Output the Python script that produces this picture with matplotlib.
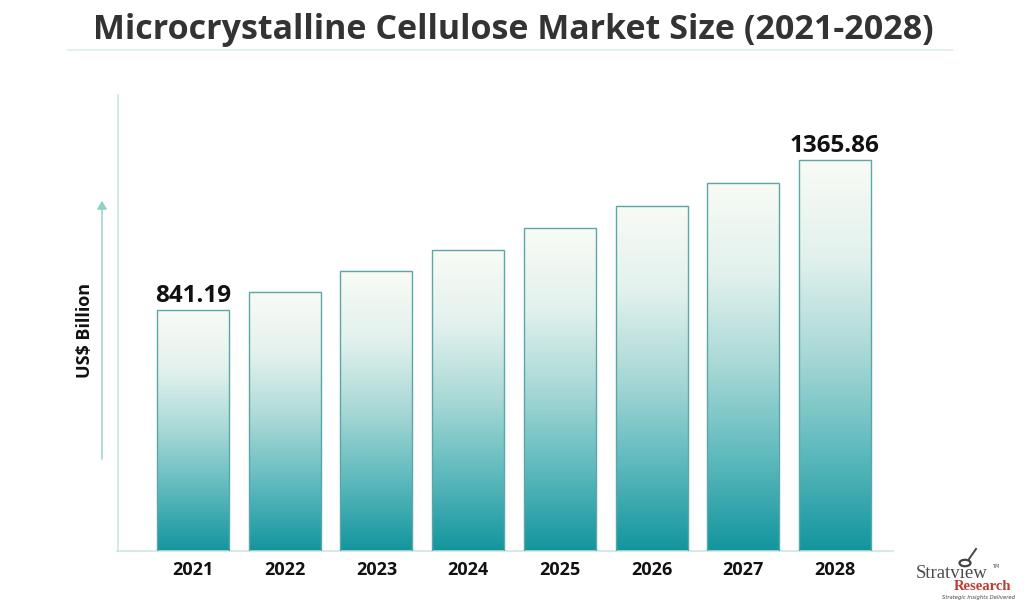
import numpy as np
import matplotlib
matplotlib.use("Agg")
import matplotlib.pyplot as plt
from matplotlib.colors import LinearSegmentedColormap
from matplotlib.patches import FancyArrowPatch

years = ["2021", "2022", "2023", "2024", "2025", "2026", "2027", "2028"]
values = [841.19, 905, 978, 1051, 1127, 1205, 1286, 1365.86]
labelled = {0: "841.19", 7: "1365.86"}
title = "Microcrystalline Cellulose Market Size (2021-2028)"
ylabel = "US$ Billion"

W, H = 1026, 601
fig = plt.figure(figsize=(W / 100, H / 100), dpi=100)
fig.patch.set_facecolor("white")

def fx(px):
    return px / W

def fy(py):
    return 1 - py / H

ax_left, ax_right, ax_top, ax_bot = 117.5, 893, 95, 551
ax = fig.add_axes([fx(ax_left), fy(ax_bot), fx(ax_right - ax_left), (ax_bot - ax_top) / H])
ax.set_facecolor("none")

unit = 91.71
x0 = -(193 - ax_left) / unit
x1 = (ax_right - 193) / unit
ymax = (ax_bot - ax_top) * 3.492

cmap = LinearSegmentedColormap.from_list(
    "tealgrad",
    [(0.0, "#13959e"), (0.25, "#5db9bd"), (0.5, "#a8d8d6"), (0.75, "#e2f1ed"), (1.0, "#f9fbf5")],
)
grad = np.linspace(0, 1, 256).reshape(-1, 1)
bw = 0.785
xs = np.arange(len(years))
bars = ax.bar(xs, values, width=bw, facecolor="none", edgecolor="#5ba7a8", linewidth=1.0, zorder=3)
for b, v in zip(bars, values):
    x = b.get_x()
    ax.imshow(grad, cmap=cmap, origin="lower", aspect="auto",
              extent=(x, x + bw, 0, v), zorder=2, interpolation="bilinear")
ax.set_xlim(x0, x1)
ax.set_ylim(0, ymax)

for i, txt in labelled.items():
    ax.text(xs[i], values[i] + 8, txt, ha="center", va="bottom",
            fontsize=17.5, fontweight="bold", family="Open Sans", color="#111111", zorder=4)

for s in ["top", "right"]:
    ax.spines[s].set_visible(False)
for s in ["left", "bottom"]:
    ax.spines[s].set_color("#cfe6e3")
    ax.spines[s].set_linewidth(1.2)
ax.set_yticks([])
ax.set_xticks(xs)
ax.set_xticklabels(years, fontsize=13, fontweight="bold", family="Open Sans", color="#111111")
ax.tick_params(axis="x", length=0, pad=7)

# title
fig.text(0.5, fy(30), title, ha="center", va="center", fontsize=24.5,
         fontweight="bold", family="Open Sans", color="#333333")
fig.add_artist(plt.Line2D([fx(68), fx(952)], [fy(50), fy(50)], color="#e3f0ee", linewidth=1.5))

# y label and arrow
fig.text(fx(85), fy(330), ylabel, rotation=90, ha="center", va="center",
         fontsize=13, fontweight="bold", family="Open Sans", color="#111111")
arr = FancyArrowPatch((fx(102), fy(462)), (fx(102), fy(198)), transform=fig.transFigure,
                      arrowstyle="-|>,head_length=5,head_width=3", color="#8fd0c8", linewidth=1.0)
fig.add_artist(arr)

# logo
fig.text(fx(952), fy(574), "Stratview", ha="center", va="center", fontsize=13.5,
         family="Liberation Serif", color="#4a4a4a")
fig.text(fx(996), fy(566), "TM", ha="center", va="center", fontsize=3.5, color="#4a4a4a")
fig.text(fx(982), fy(587), "Research", ha="center", va="center", fontsize=10.5,
         fontweight="bold", family="Liberation Serif", color="#c0392b")
fig.text(fx(978), fy(597), "Strategic Insights Delivered", ha="center", va="center", fontsize=3.8,
         style="italic", color="#444444")
fig.add_artist(plt.Circle((fx(965), fy(563)), 5.5 / W, transform=fig.transFigure,
                          fill=False, edgecolor="#444444", linewidth=1.6))
fig.add_artist(plt.Line2D([fx(969), fx(976)], [fy(559), fy(549)], color="#444444", linewidth=1.4))

fig.savefig("out.png", dpi=100)
